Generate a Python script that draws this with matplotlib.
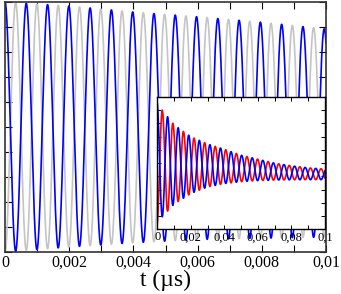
import numpy as np
import matplotlib
matplotlib.use("Agg")
import matplotlib.pyplot as plt
from matplotlib.ticker import MultipleLocator

# values
# main panel: fast oscillation, blue starts at 1, grey at 0
main_period = 0.000663
main_t_env = [0.0, 0.002, 0.004, 0.006, 0.008, 0.01]
main_upper = [1.0, 0.984, 0.96, 0.941, 0.919, 0.892]
main_lower = [0.0, 0.02, 0.037, 0.05, 0.055, 0.06]

# inset: slow (sampled) oscillation, red starts low, blue starts high
inset_period = 0.00631
inset_first_red_peak = 0.003
inset_t_env = [0.0, 0.003, 0.01, 0.02, 0.03, 0.04, 0.05, 0.06, 0.07, 0.08, 0.09, 0.1]
inset_upper = [0.96, 0.90, 0.79, 0.70, 0.645, 0.605, 0.56, 0.53, 0.50, 0.48, 0.465, 0.455]
inset_lower = [0.04, 0.095, 0.19, 0.27, 0.32, 0.345, 0.36, 0.368, 0.372, 0.374, 0.375, 0.375]

main_xticks = [0, 0.002, 0.004, 0.006, 0.008, 0.01]
main_xlabels = ["0", "0,002", "0,004", "0,006", "0,008", "0,01"]
inset_xticks = [0, 0.02, 0.04, 0.06, 0.08, 0.1]
inset_xlabels = ["0", "0,02", "0,04", "0,06", "0,08", "0,1"]


def osc(t, t_env, upper, lower, period, t0):
    up = np.interp(t, t_env, upper)
    lo = np.interp(t, t_env, lower)
    mid = (up + lo) / 2
    half = (up - lo) / 2
    return mid, half * np.cos(2 * np.pi * (t - t0) / period)


plt.rcParams["font.family"] = ["Liberation Serif", "DejaVu Serif"]

fig = plt.figure(figsize=(3.41, 2.94), dpi=100)

# main panel
ax = fig.add_axes([5 / 341, 42 / 294, 321 / 341, 250 / 294])
t = np.linspace(0, 0.01, 6000)
mid, wave = osc(t, main_t_env, main_upper, main_lower, main_period, 0.0)
ax.plot(t, mid - wave, color="#c4c4c4", lw=1.2)
ax.plot(t, mid + wave, color="#0000ff", lw=1.2)
ax.set_xlim(0, 0.01)
ax.set_ylim(0, 1)
ax.set_xticks(main_xticks)
ax.set_xticklabels(main_xlabels)
ax.xaxis.set_minor_locator(MultipleLocator(0.001))
ax.yaxis.set_major_locator(MultipleLocator(0.1))
ax.tick_params(which="both", direction="in", top=True, right=True,
               length=5, width=0.8, labelsize=11.5, pad=2)
ax.tick_params(axis="y", labelleft=False)
ax.set_xlabel("t (µs)", fontsize=17, labelpad=-1)
for s in ax.spines.values():
    s.set_linewidth(1.2)
    s.set_color("#333333")

# inset
ins = fig.add_axes([157.3 / 341, 64.7 / 294, 167.7 / 341, 132.3 / 294])
ti = np.linspace(0, 0.1, 3000)
mid_i, wave_i = osc(ti, inset_t_env, inset_upper, inset_lower,
                    inset_period, inset_first_red_peak)
ins.plot(ti, mid_i + wave_i, color="#ff0000", lw=1.2)
ins.plot(ti, mid_i - wave_i, color="#0000ff", lw=1.2)
ins.set_xlim(0, 0.1)
ins.set_ylim(0, 1)
ins.set_xticks(inset_xticks)
ins.set_xticklabels(inset_xlabels)
ins.xaxis.set_minor_locator(MultipleLocator(0.01))
ins.yaxis.set_major_locator(MultipleLocator(0.1))
ins.tick_params(which="both", direction="in", top=True, right=True,
                length=3, width=0.7, labelsize=9, pad=1.5)
ins.tick_params(axis="y", labelleft=False)
for s in ins.spines.values():
    s.set_linewidth(1.0)

fig.savefig("out.png", dpi=100)
